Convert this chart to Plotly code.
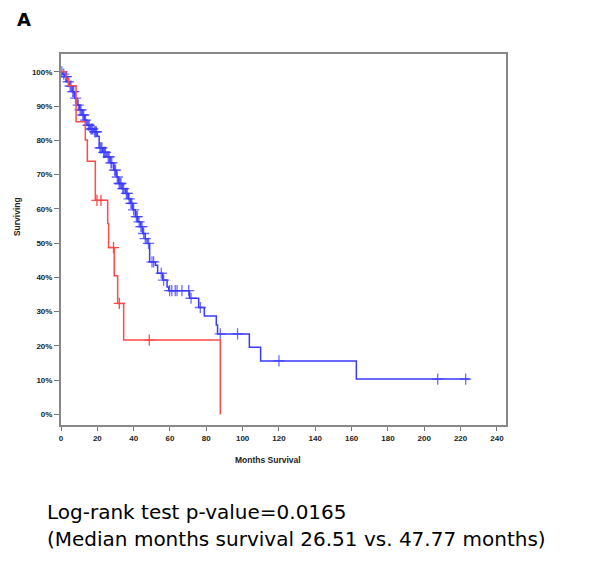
import plotly.graph_objects as go

# Kaplan-Meier steps (months, % surviving after the step)
red_time = [0, 2.6, 4.2, 8.3, 13.4, 14.5, 18.9, 25.7, 26.2, 29.3, 31.2, 34.5, 87.7]
red_surv = [100, 98.0, 95.9, 85.4, 80.1, 73.9, 62.5, 55.7, 48.7, 40.5, 32.4, 21.7, 0]
red_cens_time = [19.8, 22.0, 28.9, 32.1, 48.6]
red_cens_surv = [62.5, 62.5, 48.7, 32.4, 21.7]

blue_time = [0, 1.0, 2.0, 3.3, 4.5, 6.1, 7.5, 8.8, 10.2, 11.6, 13.0, 14.3, 16.0, 18.0,
             20.0, 21.0, 23.0, 25.3, 27.0, 29.0, 30.5, 31.7, 33.5, 35.4, 37.0, 38.2,
             39.5, 40.9, 42.3, 43.7, 45.0, 46.4, 47.4, 48.8, 52.0, 53.2, 56.0, 58.4,
             59.3, 70.8, 75.8, 78.9, 85.5, 86.2, 103.7, 109.9, 162.6, 225.0]
blue_surv = [100, 99.3, 98.6, 97.1, 95.8, 94.2, 92.3, 90.3, 88.9, 87.4, 85.9, 84.4, 83.3, 82.5,
             81.2, 77.8, 76.5, 75.2, 73.4, 71.3, 69.3, 67.4, 65.9, 64.5, 62.9, 61.6,
             59.7, 57.7, 56.2, 54.8, 52.8, 51.3, 49.9, 44.5, 43.5, 41.2, 39.2, 37.2,
             36.1, 33.9, 31.2, 28.7, 26.1, 23.5, 19.6, 15.6, 10.3, 10.3]
blue_cens_time = [0.5, 1.5, 2.5, 3.0, 4.0, 5.0, 5.5, 6.5, 7.0, 8.0, 9.5, 10.5, 11.0, 12.0,
                  12.5, 13.5, 15.0, 15.5, 16.5, 17.0, 17.5, 18.5, 19.0, 19.5, 21.5, 22.0,
                  22.5, 23.5, 24.0, 24.5, 26.0, 26.5, 27.5, 28.0, 29.5, 30.0, 31.0, 32.0,
                  32.5, 33.0, 34.0, 34.5, 36.0, 36.5, 37.5, 38.5, 39.0, 40.0, 41.5, 42.0,
                  43.0, 44.0, 44.6, 45.5, 46.4, 48.2, 50.1, 51.0, 55.2, 56.5, 59.8, 61.0,
                  62.9, 63.9, 66.6, 70.3, 71.6, 76.7, 87.7, 97.2, 120.0, 207.4, 222.8]
blue_cens_surv = [100, 99.3, 98.6, 98.6, 97.1, 95.8, 95.8, 94.2, 94.2, 92.3, 90.3, 88.9, 88.9, 87.4,
                  87.4, 85.9, 84.4, 84.4, 83.3, 83.3, 83.3, 82.5, 82.5, 82.5, 77.8, 77.8,
                  77.8, 76.5, 76.5, 76.5, 75.2, 75.2, 73.4, 73.4, 71.3, 71.3, 69.3, 67.4,
                  67.4, 67.4, 65.9, 65.9, 64.5, 64.5, 62.9, 61.6, 61.6, 59.7, 57.7, 57.7,
                  56.2, 54.8, 54.8, 52.8, 51.3, 49.9, 44.5, 44.5, 41.2, 39.2, 36.1, 36.1,
                  36.1, 36.1, 36.1, 36.1, 33.9, 31.2, 23.5, 23.5, 15.6, 10.3, 10.3]

x_ticks = list(range(0, 241, 20))
y_ticks = list(range(0, 101, 10))
y_tick_labels = ['0%', '10%', '20%', '30%', '40%', '50%', '60%', '70%', '80%', '90%', '100%']

blue = '#3a3aff'
red = '#ff4a4a'

fig = go.Figure()
fig.add_trace(go.Scatter(x=blue_time, y=blue_surv, mode='lines', line_shape='hv',
                         line=dict(color=blue, width=1.5)))
fig.add_trace(go.Scatter(x=blue_cens_time, y=blue_cens_surv, mode='markers',
                         marker=dict(symbol='cross-thin', size=8, opacity=0.75,
                                     line=dict(color=blue, width=1.3))))
fig.add_trace(go.Scatter(x=red_time, y=red_surv, mode='lines', line_shape='hv',
                         line=dict(color=red, width=1.5)))
fig.add_trace(go.Scatter(x=red_cens_time, y=red_cens_surv, mode='markers',
                         marker=dict(symbol='cross-thin', size=8,
                                     line=dict(color=red, width=1.3))))

axis_font = dict(family='Liberation Sans', size=8, color='#222', weight='bold')
fig.update_xaxes(range=[0, 245], tickvals=x_ticks, ticks='outside', ticklen=4,
                 tickcolor='#777', tickfont=axis_font, showgrid=False, zeroline=False,
                 showline=True, mirror=True, linecolor='#888', linewidth=2)
fig.update_yaxes(range=[-3.1, 105.2], tickvals=y_ticks, ticktext=y_tick_labels,
                 ticks='outside', ticklen=5, tickcolor='#777', tickfont=axis_font,
                 showgrid=False, zeroline=False, showline=True, mirror=True,
                 linecolor='#888', linewidth=2)

label_font = dict(family='Liberation Sans', size=8.5, color='#222', weight='bold')
text_font = dict(family='DejaVu Sans', size=20, color='black')
fig.update_layout(
    width=592, height=561, showlegend=False,
    margin=dict(l=53, r=94, t=46, b=144),
    plot_bgcolor='white', paper_bgcolor='white',
    annotations=[
        dict(text='A', x=-0.083, y=1.092, xref='paper', yref='paper', showarrow=False,
             xanchor='center', yanchor='middle',
             font=dict(family='DejaVu Sans', size=18, color='black', weight='bold')),
        dict(text='Surviving', x=-0.099, y=0.563, xref='paper', yref='paper', showarrow=False,
             textangle=-90, xanchor='center', yanchor='middle', font=label_font),
        dict(text='Months Survival', x=0.465, y=-0.094, xref='paper', yref='paper',
             showarrow=False, xanchor='center', yanchor='middle', font=label_font),
        dict(text='Log-rank test p-value=0.0165', x=-0.036, y=-0.2345, xref='paper',
             yref='paper', showarrow=False, xanchor='left', yanchor='middle', font=text_font),
        dict(text='(Median months survival 26.51 vs. 47.77 months)', x=-0.036, y=-0.307,
             xref='paper', yref='paper', showarrow=False, xanchor='left', yanchor='middle',
             font=text_font),
    ],
)

fig.write_html("out.html")
